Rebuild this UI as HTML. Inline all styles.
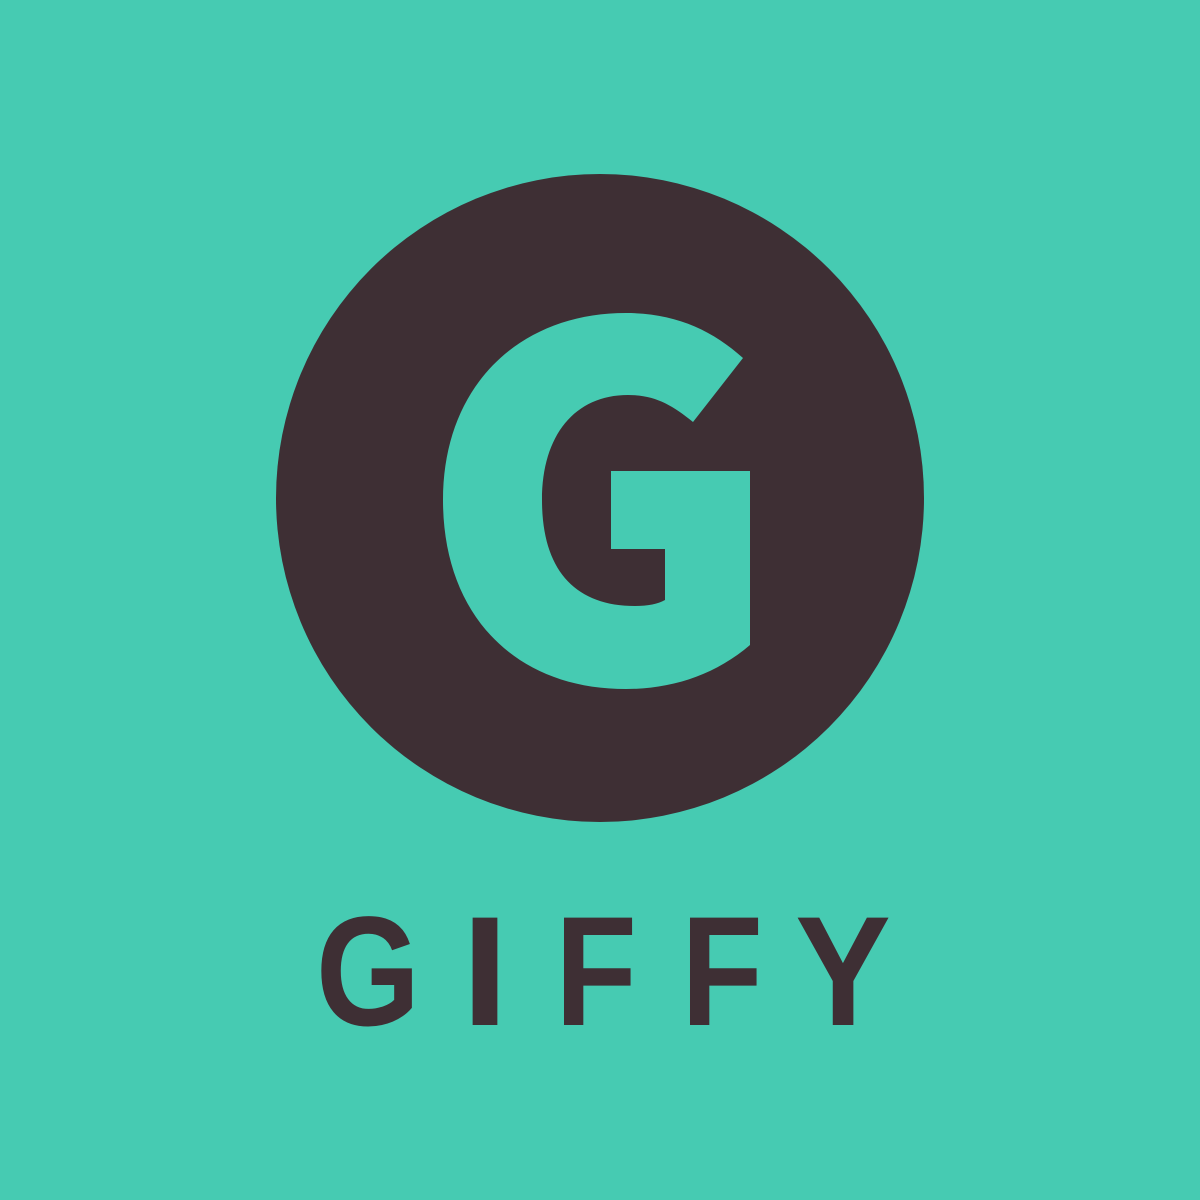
<!DOCTYPE html>
<html>
<head>
<meta charset="utf-8">
<style>
  html, body { margin: 0; padding: 0; width: 1200px; height: 1200px; overflow: hidden; background: #46CBB2; }
  svg { display: block; }
  .ltr { font-family: 'Liberation Sans', 'DejaVu Sans', sans-serif; font-weight: bold; font-size: 156px; fill: #3E2F34; }
</style>
</head>
<body>
<svg width="1200" height="1200" viewBox="0 0 1200 1200">
  <rect x="0" y="0" width="1200" height="1200" fill="#46CBB2"/>
  <ellipse cx="600" cy="498" rx="324" ry="324" fill="#3E2F34"/>
  <path fill="#46CBB2"
    d="M743,358 L693,422 C672,405 655,395 628,395 C575,395 542,435 542,500 C542,570 575,606 635,606 C648,606 658,604 665,600 L665,549 L611,549 L611,471 L750,471 L750,645 C715,675 672,689 626,689 C515,689 443,615 443,500 C443,385 520,313 626,313 C675,313 712,330 743,358 Z"/>
  <g>
    <text class="ltr" text-anchor="middle" transform="translate(368,1025) scale(0.86,1)">G</text>
    <text class="ltr" text-anchor="middle" transform="translate(485,1025) scale(1.1,1)">I</text>
    <text class="ltr" text-anchor="middle" transform="translate(596,1025) scale(0.86,1)">F</text>
    <text class="ltr" text-anchor="middle" transform="translate(722,1025) scale(0.86,1)">F</text>
    <text class="ltr" text-anchor="middle" transform="translate(843,1025) scale(0.92,1)">Y</text>
  </g>
</svg>
</body>
</html>
